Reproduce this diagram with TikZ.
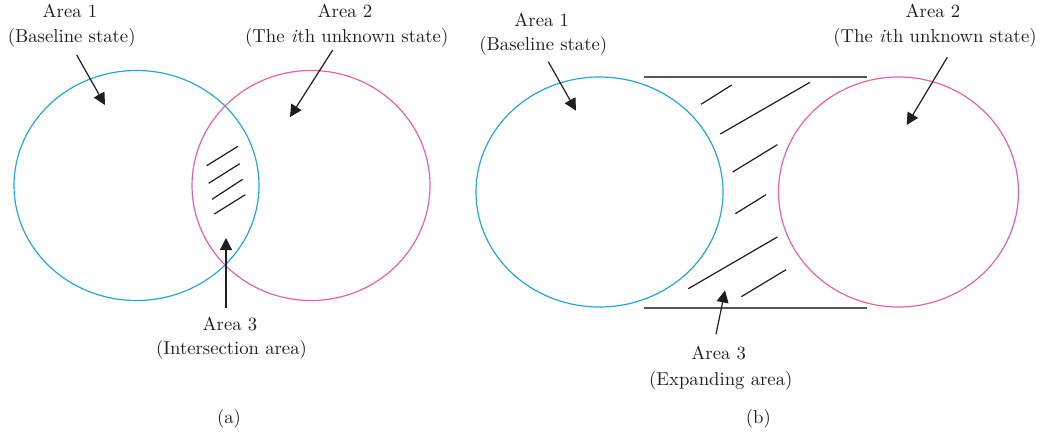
\documentclass[tikz,border=0pt]{standalone}
\usetikzlibrary{arrows.meta,shapes.geometric}
\definecolor{cblue}{RGB}{35,165,222}
\definecolor{cpink}{RGB}{236,96,160}
\definecolor{hline}{RGB}{85,85,85}
\definecolor{ink}{RGB}{30,30,30}
\begin{document}
\begin{tikzpicture}[x=1pt,y=-1pt,
 lbl/.style={anchor=base,inner sep=0pt,font=\fontsize{10}{12}\selectfont,scale=1.87,text=ink},
 ring/.style={ellipse,draw,line width=1.2pt,inner sep=0pt},
 hatch/.style={line width=1.2pt,draw=ink},
 rail/.style={line width=2pt,draw=hline},
 pointer/.style={line width=1.2pt,draw=ink,-{Triangle[length=12pt,width=12pt]}}]
\useasboundingbox (0,0) rectangle (1044,434);

% ---------- (a) ----------
\node[ring,draw=cblue,minimum width=245pt,minimum height=230pt] (c1) at (136.5,185.5) {};
\node[ring,draw=cpink,minimum width=238pt,minimum height=230pt] (c2) at (311,185.5) {};

\draw[hatch] (206.7,165.7) -- (238,146.3);
\draw[hatch] (208.7,183.3) -- (239.7,163.7);
\draw[hatch] (212,199.3) -- (242.7,179.3);
\draw[hatch] (214.3,214) -- (245.3,194.7);

\node[lbl] (a1t) at (70,17.5) {Area 1};
\node[lbl] (a1s) at (71.7,42.5) {(Baseline state)};
\node[lbl] (a2t) at (345,17.5) {Area 2};
\node[lbl] (a2s) at (346.7,42.5) {(The \textit{i}th unknown state)};
\node[lbl] (a3t) at (230,330) {Area 3};
\node[lbl] (a3s) at (231.5,354) {(Intersection area)};
\node[lbl] (capa) at (229,423) {(a)};

\coordinate (pa1s) at (76.7,55);
\coordinate (pa1e) at (105,105);
\coordinate (pa2s) at (332.7,50);
\coordinate (pa2e) at (290,117);
\coordinate (pa3s) at (226,308);
\coordinate (pa3e) at (226,238);
\draw[pointer] (pa1s) -- (pa1e);
\draw[pointer] (pa2s) -- (pa2e);
\draw[pointer] (pa3s) -- (pa3e);

% ---------- (b) ----------
\node[ring,draw=cblue,minimum width=247pt,minimum height=230pt] (c3) at (599.5,192) {};
\node[ring,draw=cpink,minimum width=240pt,minimum height=230pt] (c4) at (898.5,192) {};

\coordinate (r1a) at (644,76.7);
\coordinate (r1b) at (867,76.7);
\coordinate (r2a) at (644,307.7);
\coordinate (r2b) at (867,307.7);
\draw[rail] (r1a) -- (r1b);
\draw[rail] (r2a) -- (r2b);

\draw[hatch] (701,104.3) -- (731.7,85);
\draw[hatch] (720.3,134) -- (810,82.3);
\draw[hatch] (732.7,172) -- (777.3,144.7);
\draw[hatch] (735.3,213.7) -- (766,194.7);
\draw[hatch] (688.3,288.7) -- (777.3,237);
\draw[hatch] (741.3,296.7) -- (786,269.7);

\node[lbl] (b1t) at (541.7,26) {Area 1};
\node[lbl] (b1s) at (543.3,50.7) {(Baseline state)};
\node[lbl] (b2t) at (933,17.3) {Area 2};
\node[lbl] (b2s) at (935,42.7) {(The \textit{i}th unknown state)};
\node[lbl] (b3t) at (718.7,359) {Area 3};
\node[lbl] (b3s) at (720.8,385) {(Expanding area)};
\node[lbl] (capb) at (758.3,423) {(b)};

\coordinate (pb1s) at (548.3,61.7);
\coordinate (pb1e) at (576,110.7);
\coordinate (pb2s) at (947.3,57.3);
\coordinate (pb2e) at (906.7,125);
\coordinate (pb3s) at (716,334.3);
\coordinate (pb3e) at (725,290.5);
\draw[pointer] (pb1s) -- (pb1e);
\draw[pointer] (pb2s) -- (pb2e);
\draw[pointer] (pb3s) -- (pb3e);
\end{tikzpicture}
\end{document}
